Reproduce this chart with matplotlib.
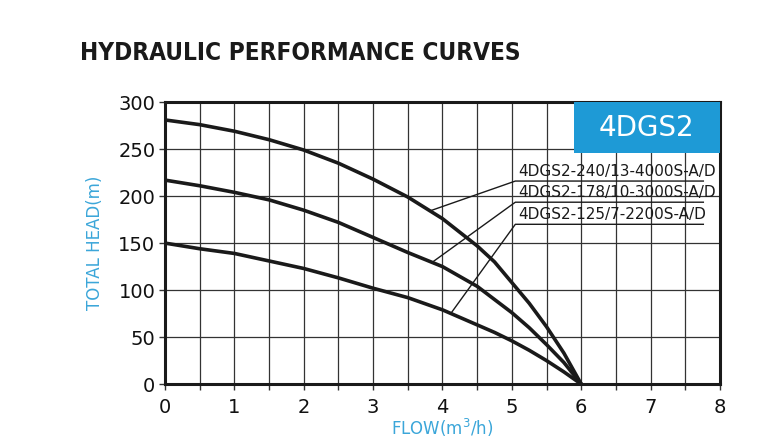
import numpy as np
import matplotlib
matplotlib.use("Agg")
import matplotlib.pyplot as plt
from matplotlib.patches import Rectangle

# flow (m3/h) and head (m)
flow = [0, 0.5, 1, 1.5, 2, 2.5, 3, 3.5, 4, 4.5, 4.75, 5, 5.25, 5.5, 5.75, 6]
head_240 = [281, 276, 269, 260, 249, 235, 218, 199, 176, 147, 130, 108, 86, 61, 33, 0]
head_178 = [217, 211, 204, 196, 185, 172, 156, 140, 125, 104, 90, 76, 60, 42, 23, 0]
head_125 = [150, 144, 139, 131, 123, 113, 102, 92, 79, 63, 55, 46, 36, 25, 13, 0]

models = ["4DGS2-240/13-4000S-A/D", "4DGS2-178/10-3000S-A/D", "4DGS2-125/7-2200S-A/D"]
series = [head_240, head_178, head_125]
leader_x = [3.82, 3.85, 4.12]     # where each leader touches its curve
label_y = [216, 193.5, 170]       # underline height for each label

blue = "#1E9AD6"
axis_blue = "#3BA6D9"

fig = plt.figure(figsize=(7.82, 4.4), dpi=100)
ax = fig.add_axes([0.211, 0.127, 0.7097, 0.641])

ax.set_xlim(0, 8)
ax.set_ylim(0, 300)
xt = np.arange(0, 8.01, 0.5)
ax.set_xticks(xt)
ax.set_xticklabels([str(int(v)) if v == int(v) else "" for v in xt])
ax.set_yticks(range(0, 301, 50))
ax.grid(True, color="#333333", linewidth=0.9)
ax.set_axisbelow(True)
for s in ax.spines.values():
    s.set_linewidth(2.2)
    s.set_color("#1a1a1a")
ax.tick_params(axis="both", direction="out", length=4, width=1, color="#333333",
               labelsize=14, labelcolor="#111111")
ax.tick_params(axis="x", pad=6)
ax.tick_params(axis="y", pad=3)

for h in series:
    ax.plot(flow, h, color="#1a1a1a", linewidth=2.6, solid_joinstyle="round")

# model labels with underline and leader line
for name, h, lx, ly in zip(models, series, leader_x, label_y):
    cy = np.interp(lx, flow, h)
    ax.plot([lx, 5.05, 7.76], [cy, ly, ly], color="#1a1a1a", linewidth=1.0)
    ax.text(5.09, ly + 2.5, name, fontsize=11, color="#1a1a1a", va="bottom", ha="left")

# series box in the corner
ax.add_patch(Rectangle((0.7363, 0.818), 0.2637, 0.182, transform=ax.transAxes,
                       facecolor=blue, edgecolor="none", zorder=3))
ax.text(0.868, 0.909, "4DGS2", transform=ax.transAxes, color="white", fontsize=20,
        ha="center", va="center", zorder=4)

ax.set_ylabel("TOTAL HEAD(m)", color=axis_blue, fontsize=12, labelpad=10)
ax.set_xlabel("FLOW(m$^3$/h)", color=axis_blue, fontsize=12, labelpad=0)

title = fig.text(0.102, 0.88, "HYDRAULIC PERFORMANCE CURVES", fontsize=20, fontweight="heavy",
                 fontstretch="condensed", family=["DejaVu Sans"], color="#1a1a1a", va="center")

# squeeze the title into the same width as the original heading
fig.canvas.draw()
w = title.get_window_extent().width
if w > 440:
    title.set_fontsize(20 * 440 / w)

fig.savefig("out.png", dpi=100)
